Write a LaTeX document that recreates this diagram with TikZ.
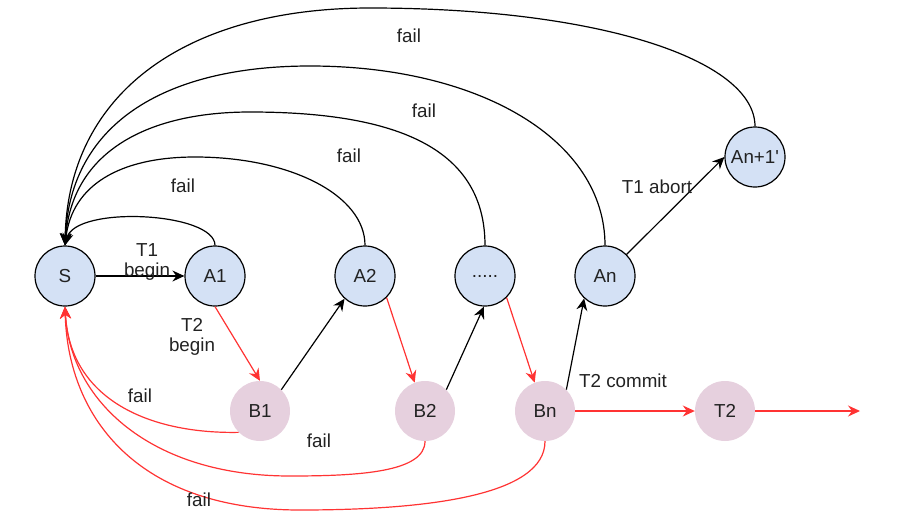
\documentclass[tikz,border=0pt]{standalone}
\usepackage{fontspec}
\setmainfont{Liberation Sans}[Ligatures=TeXOff]
\usetikzlibrary{arrows.meta}
\definecolor{stblue}{HTML}{D4E1F5}
\definecolor{stpink}{HTML}{E6D0DE}
\definecolor{edgered}{HTML}{FF3333}
\definecolor{txt}{HTML}{222222}
\begin{document}
\begin{tikzpicture}[x=1pt,y=-1pt,
  every node/.style={font=\fontsize{18.8}{20.5}\selectfont, inner sep=0pt, text=txt},
  astate/.style={circle, draw=black, line width=1.2pt, fill=stblue, minimum size=60pt},
  bstate/.style={circle, fill=stpink, minimum size=60pt},
  flow/.style={line width=1.2pt, -{Stealth[length=12pt,width=11pt,inset=4pt]}},
  blk/.style={flow, draw=black},
  rd/.style={flow, draw=edgered},
  lbl/.style={align=center}
]
\useasboundingbox (0,0) rectangle (908,528);

% states of the first transaction
\node[astate] (S)    at (65,276)  {S};
\node[astate] (A1)   at (215,276) {A1};
\node[astate] (A2)   at (365,276) {A2};
\node[astate] (dots) at (485,276) {.....};
\node[astate] (An)   at (605,276) {An};
\node[astate] (An1)  at (755,157) {An+1'};

% states of the second transaction
\node[bstate] (B1) at (260,411) {B1};
\node[bstate] (B2) at (425,411) {B2};
\node[bstate] (Bn) at (545,411) {Bn};
\node[bstate] (T2) at (725,411) {T2};
\coordinate (out) at (860,411);

% forward steps
\draw[blk] (S.east) -- (A1.west);
\draw[rd]  (A1.south) -- (B1.north);
\draw[rd]  (A2.315) -- (B2.110);
\draw[rd]  (dots.315) -- (Bn.110);
\draw[blk] (B1.45) -- (A2.228);
\draw[blk] (B2.45) -- (dots.268);
\draw[blk] (Bn.45) -- (An.227);
\draw[blk] (An.45) -- (An1.west);
\draw[rd]  (Bn.east) -- (T2.west);
\draw[rd]  (T2.east) -- (out);

% failures of the first transaction back to S
\draw[blk] (A1.north) .. controls (215,212) and (75,205) .. (S.north);
\draw[blk] (A2.north) .. controls (365,195) and (290,157) .. (195,157)
                      .. controls (120,157) and (72,185) .. (S.north);
\draw[blk] (dots.north) .. controls (485,150) and (400,112) .. (250,112)
                        .. controls (150,112) and (72,150) .. (S.north);
\draw[blk] (An.north) .. controls (605,140) and (480,66) .. (310,66)
                      .. controls (170,66) and (70,120) .. (S.north);
\draw[blk] (An1.north) .. controls (755,60) and (600,8) .. (370,8)
                       .. controls (190,8) and (68,90) .. (S.north);

% failures of the second transaction back to S
\draw[rd] (B1.225) .. controls (150,434) and (70,400) .. (S.south);
\draw[rd] (B2.south) .. controls (425,472) and (360,476) .. (290,476)
                     .. controls (150,476) and (70,400) .. (S.south);
\draw[rd] (Bn.south) .. controls (545,495) and (430,510) .. (300,510)
                     .. controls (140,510) and (68,420) .. (S.south);

% edge labels
\node[lbl] (lT1b) at (147,262) {T1\\begin};
\node[lbl] (lT2b) at (192,337) {T2\\begin};
\node[lbl] (lT2c) at (623,381) {T2 commit};
\node[lbl] (lT1a) at (657,187) {T1 abort};
\node[lbl] (f1) at (183,186) {fail};
\node[lbl] (f2) at (349,156) {fail};
\node[lbl] (f3) at (424,111) {fail};
\node[lbl] (f4) at (409,36)  {fail};
\node[lbl] (f5) at (140,396) {fail};
\node[lbl] (f6) at (319,441) {fail};
\node[lbl] (f7) at (199,500) {fail};
\end{tikzpicture}
\end{document}
